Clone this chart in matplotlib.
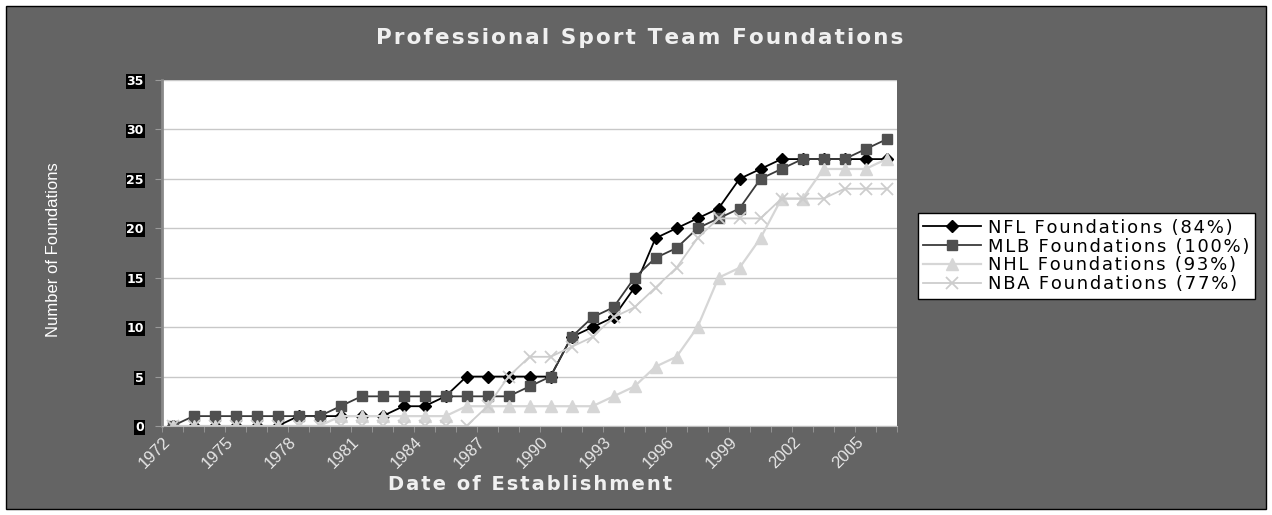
import numpy as np
import matplotlib
matplotlib.use("Agg")
import matplotlib.pyplot as plt
from matplotlib.patches import Rectangle
from matplotlib.transforms import ScaledTranslation

# datos (acumulado por año)
years = list(range(1972, 2007))
nfl = [0, 0, 0, 0, 0, 0, 1, 1, 1, 1, 1, 2, 2, 3, 5, 5, 5, 5, 5, 9,
       10, 11, 14, 19, 20, 21, 22, 25, 26, 27, 27, 27, 27, 27, 27]
mlb = [0, 1, 1, 1, 1, 1, 1, 1, 2, 3, 3, 3, 3, 3, 3, 3, 3, 4, 5, 9,
       11, 12, 15, 17, 18, 20, 21, 22, 25, 26, 27, 27, 27, 28, 29]
nhl = [0, 0, 0, 0, 0, 0, 0, 0, 1, 1, 1, 1, 1, 1, 2, 2, 2, 2, 2, 2,
       2, 3, 4, 6, 7, 10, 15, 16, 19, 23, 23, 26, 26, 26, 27]
nba = [0, 0, 0, 0, 0, 0, 0, 0, 0, 0, 0, 0, 0, 0, 0, 2, 5, 7, 7, 8,
       9, 11, 12, 14, 16, 19, 21, 21, 21, 23, 23, 23, 24, 24, 24]
labels = ["NFL Foundations (84%)", "MLB Foundations (100%)",
          "NHL Foundations (93%)", "NBA Foundations (77%)"]


def spaced(s):
    # imitar el espaciado ancho de Excel
    return "\u200a".join(s)


bg = "#646464"
fig = plt.figure(figsize=(12.72, 5.15), dpi=100)
fig.patch.set_facecolor("white")
fig.patches.append(Rectangle((6 / 1272, 6 / 515), 1260 / 1272, 503 / 515,
                             transform=fig.transFigure, facecolor=bg,
                             edgecolor="black", linewidth=1, zorder=-10))

ax = fig.add_axes([162 / 1272, 1 - 426 / 515, 735 / 1272, 346 / 515])
ax.set_facecolor("white")
x = np.arange(len(years))

ax.plot(x, nfl, color="black", marker="D", markersize=6, lw=1.3,
        label=spaced(labels[0]))
ax.plot(x, mlb, color="#3a3a3a", marker="s", markersize=7, lw=1.3,
        markerfacecolor="#505050", markeredgecolor="#505050",
        label=spaced(labels[1]))
ax.plot(x, nhl, color="#d6d6d6", marker="^", markersize=8, lw=1.6,
        label=spaced(labels[2]))
ax.plot(x, nba, color="#cdcdcd", marker="x", markersize=8, mew=1.3, lw=1.3,
        label=spaced(labels[3]))

ax.set_xlim(-0.5, len(years) - 0.5)
ax.set_ylim(0, 35)
ax.set_yticks(range(0, 36, 5))
ax.yaxis.grid(True, color="#c8c8c8", lw=1)
ax.set_axisbelow(True)
for s in ["top", "right"]:
    ax.spines[s].set_visible(False)
ax.spines["left"].set_color("#8a8a8a")
ax.spines["left"].set_linewidth(2)
ax.spines["bottom"].set_color("#bbbbbb")

ax.tick_params(axis="y", colors="#9a9a9a", length=5, pad=8)
for t in ax.get_yticklabels():
    t.set_color("white")
    t.set_fontsize(9)
    t.set_fontweight("bold")
    t.set_bbox(dict(facecolor="black", edgecolor="none", pad=0.6))

ax.set_xticks(np.arange(-0.5, len(years)), minor=True)
ax.set_xticks(x[::3])
ax.set_xticklabels([str(y) for y in years[::3]], rotation=45, ha="right",
                   va="top", rotation_mode="anchor", color="#e6e6e6", fontsize=12,
                   family="Liberation Sans")
ax.tick_params(axis="x", which="major", length=0, pad=4)
ax.tick_params(axis="x", which="minor", length=4, color="#9a9a9a")
off = ScaledTranslation(-0.1, -0.03, fig.dpi_scale_trans)
for t in ax.get_xticklabels():
    t.set_transform(t.get_transform() + off)

fig.text(640 / 1272, 1 - 38 / 515, spaced("Professional Sport Team Foundations"),
         ha="center", va="center", color="#f0f0f0", fontsize=15.5, fontweight="bold")
fig.text(530 / 1272, 1 - 485 / 515, spaced("Date of Establishment"), ha="center",
         va="center", color="#f0f0f0", fontsize=14, fontweight="bold")
fig.text(54 / 1272, 1 - 250 / 515, "Number of Foundations", ha="center",
         va="center", rotation=90, color="white", fontsize=12,
         family="Liberation Sans")

leg = fig.legend(loc="center left", bbox_to_anchor=(918 / 1272, 1 - 256 / 515),
                 frameon=True, fancybox=False, fontsize=13, handlelength=3.2,
                 labelspacing=0.05, borderpad=0.3, handletextpad=0.4,
                 borderaxespad=0, framealpha=1)
leg.get_frame().set_edgecolor("black")
leg.get_frame().set_facecolor("white")
leg.get_frame().set_linewidth(1)

fig.savefig("out.png", dpi=100)
